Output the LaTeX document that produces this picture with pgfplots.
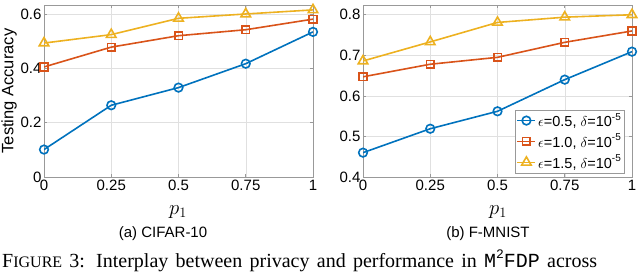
\documentclass[border=0pt]{standalone}
\usepackage{fontspec}
\setmainfont{Liberation Sans}
\newfontfamily\capserif{Liberation Serif}
\newfontfamily\capmono{Liberation Mono}
\usepackage{pgfplots}
\pgfplotsset{compat=1.18}
\definecolor{mblue}{rgb}{0,0.447,0.741}
\definecolor{mred}{rgb}{0.85,0.325,0.098}
\definecolor{myellow}{rgb}{0.929,0.694,0.125}
\pgfplotsset{
 myax/.style={
  scale only axis, width=269bp, height=172bp, anchor=south west,
  xmin=0, xmax=1, xtick={0,0.25,0.5,0.75,1}, xticklabels={0,0.25,0.5,0.75,1},
  grid=major, major grid style={black!12, line width=0.5bp},
  axis line style={black!40, line width=0.6bp}, tick style={black!40, line width=0.6bp},
  tick align=inside, major tick length=3bp,
  ticklabel style={font=\fontsize{15bp}{17bp}\selectfont},
  yticklabel style={xshift=1bp},
  /pgf/number format/assume math mode=true,
  every axis plot/.append style={line width=1.6bp, mark options={solid}},
  legend image code/.code={\draw[mark repeat=2,mark phase=2] plot coordinates {(0bp,0bp)(9bp,0bp)(18bp,0bp)};},
 },
 s1/.style={mblue, mark=o, mark size=4.3bp},
 s2/.style={mred, mark=square, mark size=3.8bp},
 s3/.style={myellow, mark=triangle, mark size=5.5bp},
}
\newcommand{\supx}[1]{\raisebox{0.45em}{\fontsize{10bp}{10bp}\selectfont #1}}
\newcommand{\supc}[1]{\raisebox{0.45em}{\fontsize{13bp}{13bp}\selectfont #1}}
\begin{document}
\begin{tikzpicture}
\useasboundingbox (0,0) rectangle (640bp,-274bp);
\begin{axis}[myax, at={(44bp,-177bp)},
  ymin=0, ymax=0.633, ytick={0,0.2,0.4,0.6},
  ylabel={Testing Accuracy},
  ylabel style={at={(axis description cs:-0.130,0.5)}, anchor=center, font=\fontsize{16.5bp}{18bp}\selectfont},
 ]
\addplot[s1] coordinates {(0,0.101)(0.25,0.264)(0.5,0.329)(0.75,0.417)(1,0.534)};
\addplot[s2] coordinates {(0,0.405)(0.25,0.478)(0.5,0.520)(0.75,0.542)(1,0.581)};
\addplot[s3] coordinates {(0,0.493)(0.25,0.524)(0.5,0.584)(0.75,0.600)(1,0.615)};
\end{axis}
\begin{axis}[myax, at={(363bp,-177bp)},
  ymin=0.4, ymax=0.824, ytick={0.4,0.5,0.6,0.7,0.8},
  legend style={at={(1,0)}, anchor=south east, xshift=-8bp, yshift=4bp, draw=black!40,
    font=\fontsize{14.5bp}{16bp}\selectfont, inner sep=1bp, row sep=2bp},
  legend cell align=left,
 ]
\addplot[s1] coordinates {(0,0.460)(0.25,0.519)(0.5,0.562)(0.75,0.640)(1,0.709)};
\addplot[s2] coordinates {(0,0.647)(0.25,0.678)(0.5,0.695)(0.75,0.732)(1,0.760)};
\addplot[s3] coordinates {(0,0.686)(0.25,0.733)(0.5,0.781)(0.75,0.794)(1,0.800)};
\legend{{$\epsilon$=0.5, $\delta$=10\supx{-5}},{$\epsilon$=1.0, $\delta$=10\supx{-5}},{$\epsilon$=1.5, $\delta$=10\supx{-5}}}
\end{axis}
\node[font=\fontsize{19bp}{20bp}\selectfont] at (178bp,-212bp) {$p_1$};
\node[font=\fontsize{19bp}{20bp}\selectfont] at (498bp,-212bp) {$p_1$};
\node[font=\fontsize{15bp}{17bp}\selectfont] at (163bp,-234bp) {(a) CIFAR-10};
\node[font=\fontsize{15bp}{17bp}\selectfont] at (488bp,-234bp) {(b) F-MNIST};
\node[anchor=base west, inner sep=0pt, font=\capserif\fontsize{20bp}{22bp}\selectfont] at (2bp,-267bp)
 {\makebox[595bp][s]{F{\fontsize{16bp}{17bp}\selectfont IGURE} 3: Interplay between privacy and performance in {\capmono M\supc{2}FDP} across}};
\end{tikzpicture}
\end{document}
